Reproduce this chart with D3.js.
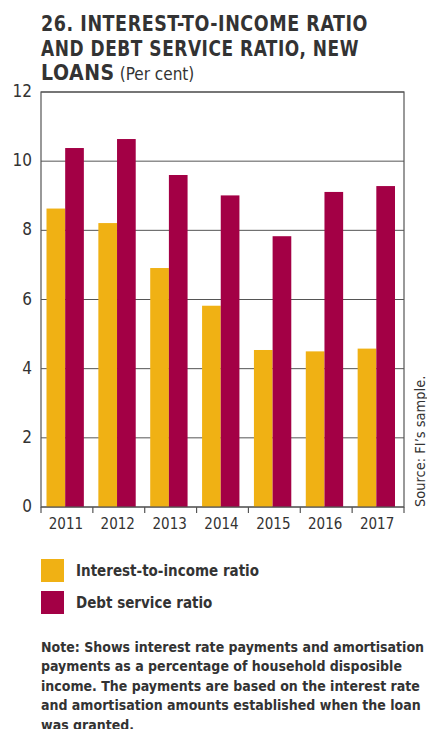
<!DOCTYPE html>
<html>
<head>
<meta charset="utf-8">
<script src="https://cdn.jsdelivr.net/npm/d3@7"></script>
<style>
  body { margin: 0; background: #fff; }
  text { font-family: "DejaVu Sans Condensed", "DejaVu Sans", sans-serif; fill: #333; }
</style>
</head>
<body>
<svg id="grafico"></svg>
<script>
// Dados do gráfico
var anos = ['2011', '2012', '2013', '2014', '2015', '2016', '2017'];
var jurosRenda = [8.63, 8.21, 6.91, 5.82, 4.54, 4.50, 4.58];
var servicoDivida = [10.38, 10.64, 9.60, 9.01, 7.83, 9.11, 9.28];
var ticksY = [0, 2, 4, 6, 8, 10, 12];
var series = ['Interest-to-income ratio', 'Debt service ratio'];
var cores = ['#F0B114', '#A30045'];
var titulo = ['26. INTEREST-TO-INCOME RATIO', 'AND DEBT SERVICE RATIO, NEW', 'LOANS'];
var nota = [
  'Note: Shows interest rate payments and amortisation',
  'payments as a percentage of household disposible',
  'income. The payments are based on the interest rate',
  'and amortisation amounts established when the loan',
  'was granted.'
];

var largura = 427, altura = 729;
var svg = d3.select('#grafico').attr('width', largura).attr('height', altura);

var margem = { esquerda: 41, direita: 23, superior: 92, inferior: 222 };
var larguraPlotagem = largura - margem.esquerda - margem.direita;
var alturaPlotagem = altura - margem.superior - margem.inferior;

//Título
var tit = svg.append('g');
titulo.forEach(function(linha, i) {
  var t = tit.append('text')
    .attr('x', 41)
    .attr('y', 31 + i * 24.7)
    .style('font-size', '21px')
    .style('font-weight', 'bold')
    .style('letter-spacing', '0.6px')
    .text(linha);
  if (i < 2) t.attr('textLength', i == 0 ? 327 : 318).attr('lengthAdjust', 'spacingAndGlyphs');
  if (i == 2) {
    t.append('tspan')
      .style('font-size', '17px')
      .style('font-weight', 'normal')
      .style('letter-spacing', '0px')
      .text(' (Per cent)');
  }
});

var plotagem = svg.append('g')
  .attr('transform', 'translate(' + margem.esquerda + ',' + margem.superior + ')');

//Escalas
var x = d3.scaleBand().domain(anos).range([0, larguraPlotagem]);
var x1 = d3.scaleBand().domain([0, 1]).range([5.5, x.bandwidth() - 9]);
var y = d3.scaleLinear().domain([0, 12]).range([alturaPlotagem, 0]);

//Linhas de grade
plotagem.append('g')
  .selectAll('line')
  .data(ticksY)
  .enter().append('line')
  .attr('x1', 0).attr('x2', larguraPlotagem)
  .attr('y1', d => y(d)).attr('y2', d => y(d))
  .attr('stroke', '#555').attr('stroke-width', 1);

//Barras
var dados = anos.map((a, i) => ({ ano: a, valores: [jurosRenda[i], servicoDivida[i]] }));
var grupos = plotagem.selectAll('.grupo').data(dados).enter().append('g')
  .attr('transform', d => 'translate(' + x(d.ano) + ',0)');
grupos.selectAll('rect')
  .data(d => d.valores.map((v, k) => ({ k: k, v: v })))
  .enter().append('rect')
  .attr('x', d => x1(d.k))
  .attr('width', x1.bandwidth())
  .attr('y', d => y(d.v))
  .attr('height', d => y(0) - y(d.v))
  .attr('fill', d => cores[d.k]);

//Moldura
plotagem.append('rect')
  .attr('x', 0).attr('y', 0)
  .attr('width', larguraPlotagem).attr('height', alturaPlotagem)
  .attr('fill', 'none').attr('stroke', '#555').attr('stroke-width', 1.2);

//Eixo X
var eixoX = plotagem.append('g').attr('transform', 'translate(0,' + alturaPlotagem + ')');
eixoX.selectAll('line')
  .data(anos.concat(['fim']))
  .enter().append('line')
  .attr('x1', (d, i) => i * x.bandwidth()).attr('x2', (d, i) => i * x.bandwidth())
  .attr('y1', 0).attr('y2', 6)
  .attr('stroke', '#555').attr('stroke-width', 1.2);
eixoX.selectAll('text')
  .data(anos)
  .enter().append('text')
  .attr('x', d => x(d) + x.bandwidth() / 2 - 1)
  .attr('y', 22)
  .style('text-anchor', 'middle')
  .style('font-size', '15px')
  .text(d => d);

//Eixo Y
plotagem.append('g').selectAll('text')
  .data(ticksY)
  .enter().append('text')
  .attr('x', -9)
  .attr('y', d => y(d) + 5)
  .style('text-anchor', 'end')
  .style('font-size', '17px')
  .text(d => d);

//Fonte
svg.append('text')
  .attr('transform', 'translate(425,' + (margem.superior + alturaPlotagem) + ') rotate(-90)')
  .style('font-size', '14.5px')
  .text('Source: FI\u2019s sample.');

//Legenda
var legenda = svg.append('g').attr('transform', 'translate(41,559)');
series.forEach(function(s, i) {
  legenda.append('rect')
    .attr('x', 0).attr('y', i * 32)
    .attr('width', 23).attr('height', 23)
    .attr('fill', cores[i]);
  legenda.append('text')
    .attr('x', 35).attr('y', i * 32 + 17)
    .style('font-size', '15px')
    .style('font-weight', 'bold')
    .text(s);
});

//Nota
var notaG = svg.append('g');
nota.forEach(function(linha, i) {
  var t = notaG.append('text')
    .attr('x', 41).attr('y', 652 + i * 19.4)
    .style('font-size', '14px')
    .style('font-weight', 'bold')
    .text(linha);
});
</script>
</body>
</html>
